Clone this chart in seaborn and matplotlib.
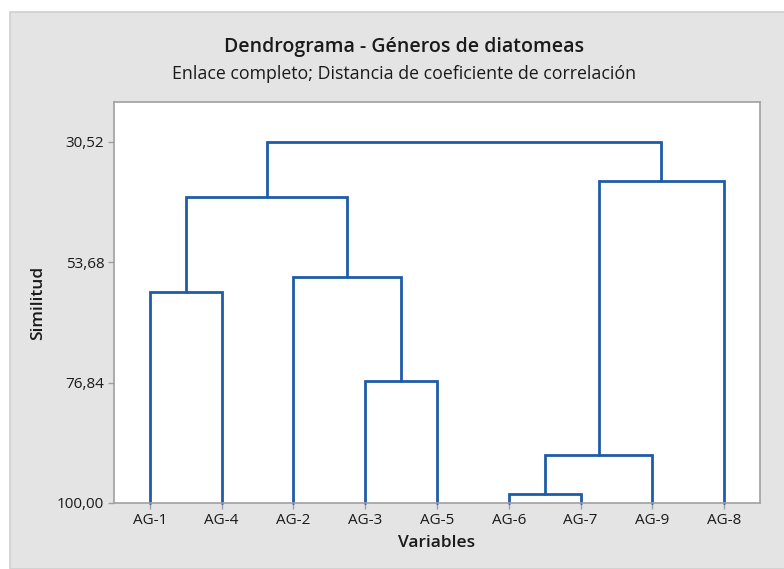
import matplotlib

matplotlib.use("Agg")

import matplotlib.pyplot as plt
import seaborn as sns
from matplotlib.patches import Rectangle
from matplotlib.ticker import FixedLocator

# Leaves in dendrogram order
labels = ["AG-1", "AG-4", "AG-2", "AG-3", "AG-5", "AG-6", "AG-7", "AG-9", "AG-8"]
# Merges: (left cluster, right cluster, similarity). Leaves are 0..8, new clusters 9..
# 9=(6,7) 10=(3,5) 11=(6,7,9) 12=(1,4) 13=(2,3,5) 14=(6,7,9,8) 15=(1,4,2,3,5)
merge_left = [5, 3, 9, 0, 2, 11, 12, 15]
merge_right = [6, 4, 7, 1, 10, 8, 13, 14]
merge_sim = [98.27, 76.55, 90.77, 59.45, 56.6, 38.1, 41.2, 30.52]
yticks = [30.52, 53.68, 76.84, 100.0]

LINE = "#1f5ca8"
GRID = "#a0a0a0"
BG = "#e4e4e4"
TEXT = "#1a1a1a"

sns.set_theme(style="white")
plt.rcParams["font.family"] = ["Open Sans", "DejaVu Sans"]

fig = plt.figure(figsize=(7.84, 5.69), dpi=100, facecolor="white")
fig.patches.append(Rectangle((10 / 784, 0), 1, 1 - 12 / 569, transform=fig.transFigure,
                             facecolor=BG, edgecolor="#cfcfcf", linewidth=1.2, zorder=-10))
ax = fig.add_axes([114 / 784, 66 / 569, 646 / 784, 401 / 569])
ax.set_facecolor("white")

# x position and height of each node; a link joins the two children at the merge level
xpos = {i: float(i) for i in range(len(labels))}
height = {i: 100.0 for i in range(len(labels))}
for k, (a, b, s) in enumerate(zip(merge_left, merge_right, merge_sim)):
    node = len(labels) + k
    ax.plot([xpos[a], xpos[a], xpos[b], xpos[b]], [height[a], s, s, height[b]],
            color=LINE, linewidth=2, solid_joinstyle="miter", clip_on=False)
    xpos[node] = (xpos[a] + xpos[b]) / 2
    height[node] = s

ax.set_xlim(-0.5, len(labels) - 0.5)
ax.set_ylim(100, 22.9)
ax.set_xticks(range(len(labels)))
ax.set_xticklabels(labels)
ax.yaxis.set_major_locator(FixedLocator(yticks))
ax.set_yticklabels([f"{v:.2f}".replace(".", ",") for v in yticks])

for sp in ax.spines.values():
    sp.set_visible(True)
    sp.set_color(GRID)
    sp.set_linewidth(1.2)
ax.tick_params(axis="both", which="major", length=4, width=1, color=GRID,
               labelsize=11, labelcolor=TEXT, pad=3, bottom=True, left=True)

ax.set_xlabel("Variables", fontsize=12.5, fontweight="semibold", color=TEXT, labelpad=5)
ax.set_ylabel("Similitud", fontsize=12.5, fontweight="semibold", color=TEXT, labelpad=8)

fig.text(404 / 784, 1 - 47 / 569, "Dendrograma - Géneros de diatomeas",
         ha="center", va="center", fontsize=14, fontweight="semibold", color=TEXT)
fig.text(404 / 784, 1 - 74 / 569, "Enlace completo; Distancia de coeficiente de correlación",
         ha="center", va="center", fontsize=12.8, color=TEXT)

fig.savefig("out.png", dpi=100, facecolor=fig.get_facecolor())
